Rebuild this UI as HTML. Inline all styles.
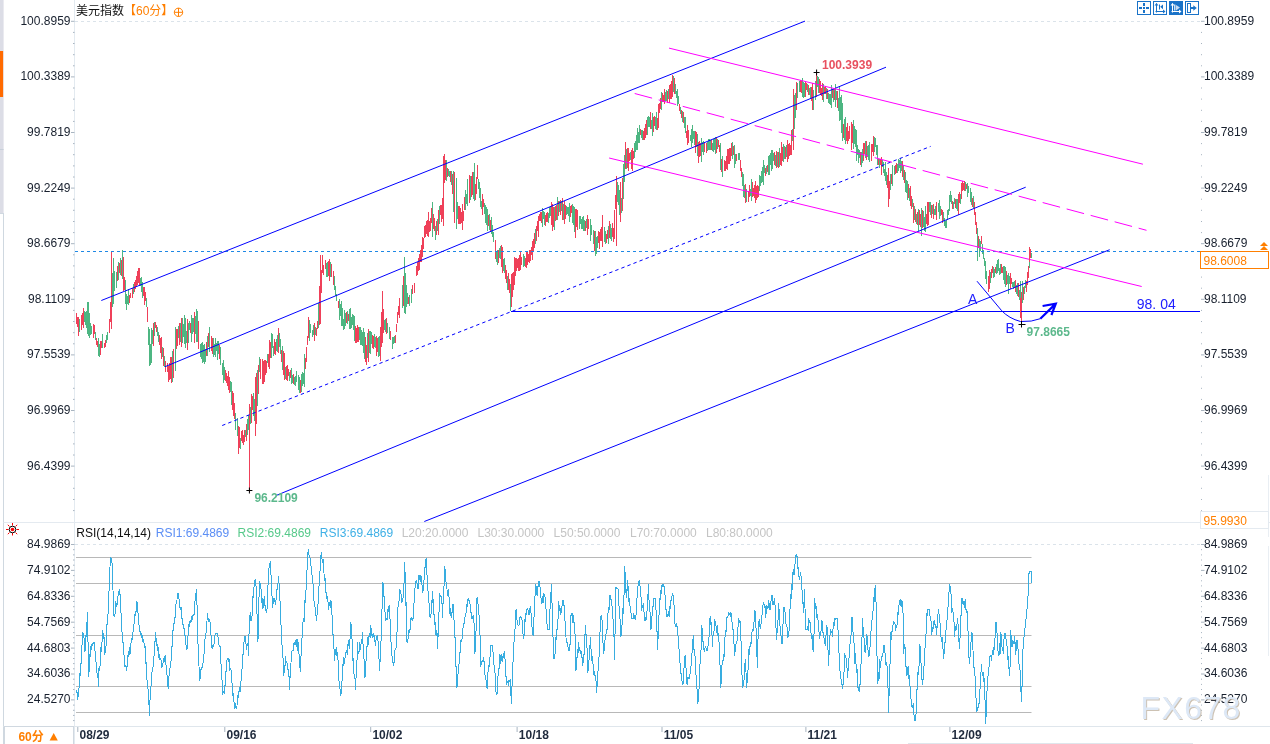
<!DOCTYPE html>
<html><head><meta charset="utf-8"><style>
html,body{margin:0;padding:0;background:#fff;overflow:hidden;width:1270px;height:744px}
svg{display:block}
text{font-family:"Liberation Sans","Noto Sans CJK SC",sans-serif;font-size:12px}
.ax{fill:#18202e}
.dt{fill:#1f2a3c;font-weight:bold}
</style></head><body>
<svg width="1270" height="744" viewBox="0 0 1270 744">
<rect width="1270" height="744" fill="#fff"/>
<!-- left strip -->
<rect x="0" y="0" width="3.6" height="213" fill="#dcdde6"/>
<rect x="0" y="51" width="3.1" height="46" fill="#ff6a00"/>
<path d="M0 149.5H3.6" stroke="#c8d0da" stroke-width="1"/>
<path d="M0 213.5H4M3.5 213V744" stroke="#cfd8e0" stroke-width="1"/>
<!-- panel separators -->
<path d="M74.5 0V744" stroke="#e3eaf0" stroke-width="1"/>
<path d="M3.5 522.5H1270" stroke="#e4eaf0" stroke-width="1"/>
<path d="M3.5 726.5H1270" stroke="#dfe6ec" stroke-width="1"/>
<path d="M908 743.5H1193" stroke="#dfe6ec" stroke-width="1"/>
<path d="M75 21.5H1200M75 544.5H1200" stroke="#dbe3ea" stroke-width="1" stroke-dasharray="3,3"/>
<path d="M71 21.3H74.5M1201 21.3H1204.5M73 32.4H74.5M1201 32.4H1202M73 43.5H74.5M1201 43.5H1202M73 54.7H74.5M1201 54.7H1202M73 65.8H74.5M1201 65.8H1202M71 76.9H74.5M1201 76.9H1204.5M73 88.0H74.5M1201 88.0H1202M73 99.1H74.5M1201 99.1H1202M73 110.3H74.5M1201 110.3H1202M73 121.4H74.5M1201 121.4H1202M71 132.5H74.5M1201 132.5H1204.5M73 143.6H74.5M1201 143.6H1202M73 154.7H74.5M1201 154.7H1202M73 165.9H74.5M1201 165.9H1202M73 177.0H74.5M1201 177.0H1202M71 188.1H74.5M1201 188.1H1204.5M73 199.2H74.5M1201 199.2H1202M73 210.3H74.5M1201 210.3H1202M73 221.5H74.5M1201 221.5H1202M73 232.6H74.5M1201 232.6H1202M71 243.7H74.5M1201 243.7H1204.5M73 254.8H74.5M1201 254.8H1202M73 265.9H74.5M1201 265.9H1202M73 277.1H74.5M1201 277.1H1202M73 288.2H74.5M1201 288.2H1202M71 299.3H74.5M1201 299.3H1204.5M73 310.4H74.5M1201 310.4H1202M73 321.5H74.5M1201 321.5H1202M73 332.7H74.5M1201 332.7H1202M73 343.8H74.5M1201 343.8H1202M71 354.9H74.5M1201 354.9H1204.5M73 366.0H74.5M1201 366.0H1202M73 377.1H74.5M1201 377.1H1202M73 388.3H74.5M1201 388.3H1202M73 399.4H74.5M1201 399.4H1202M71 410.5H74.5M1201 410.5H1204.5M73 421.6H74.5M1201 421.6H1202M73 432.7H74.5M1201 432.7H1202M73 443.9H74.5M1201 443.9H1202M73 455.0H74.5M1201 455.0H1202M71 466.1H74.5M1201 466.1H1204.5M73 477.2H74.5M1201 477.2H1202M73 488.3H74.5M1201 488.3H1202M73 499.5H74.5M1201 499.5H1202M73 510.6H74.5M1201 510.6H1202M71 544.5H74.5M1201 544.5H1204.5M73 549.7H74.5M1201 549.7H1202M73 554.9H74.5M1201 554.9H1202M73 560.0H74.5M1201 560.0H1202M73 565.2H74.5M1201 565.2H1202M71 570.4H74.5M1201 570.4H1204.5M73 575.6H74.5M1201 575.6H1202M73 580.8H74.5M1201 580.8H1202M73 585.9H74.5M1201 585.9H1202M73 591.1H74.5M1201 591.1H1202M71 596.3H74.5M1201 596.3H1204.5M73 601.5H74.5M1201 601.5H1202M73 606.7H74.5M1201 606.7H1202M73 611.8H74.5M1201 611.8H1202M73 617.0H74.5M1201 617.0H1202M71 622.2H74.5M1201 622.2H1204.5M73 627.4H74.5M1201 627.4H1202M73 632.6H74.5M1201 632.6H1202M73 637.7H74.5M1201 637.7H1202M73 642.9H74.5M1201 642.9H1202M71 648.1H74.5M1201 648.1H1204.5M73 653.3H74.5M1201 653.3H1202M73 658.5H74.5M1201 658.5H1202M73 663.6H74.5M1201 663.6H1202M73 668.8H74.5M1201 668.8H1202M71 674.0H74.5M1201 674.0H1204.5M73 679.2H74.5M1201 679.2H1202M73 684.4H74.5M1201 684.4H1202M73 689.5H74.5M1201 689.5H1202M73 694.7H74.5M1201 694.7H1202M71 699.9H74.5M1201 699.9H1204.5M73 705.1H74.5M1201 705.1H1202M73 710.3H74.5M1201 710.3H1202M73 715.4H74.5M1201 715.4H1202M73 720.6H74.5M1201 720.6H1202M77.8 727V732M224.8 727V732M370.7 727V732M517.1 727V732M662.0 727V732M805.9 727V732M949.9 727V732" stroke="#a8b4c0" stroke-width="1"/>
<path d="M76 557.5H1031.5" stroke="#b8b8b8" stroke-width="1"/><path d="M76 583.5H1031.5" stroke="#b8b8b8" stroke-width="1"/><path d="M76 635.5H1031.5" stroke="#b8b8b8" stroke-width="1"/><path d="M76 686.5H1031.5" stroke="#b8b8b8" stroke-width="1"/><path d="M76 712.5H1031.5" stroke="#b8b8b8" stroke-width="1"/>
<!-- candles -->
<g shape-rendering="crispEdges"><path d="M76.5 313.3V323.6M77.5 317.0V327.2M78.5 317.0V336.1M81.5 314.8V329.7M82.5 313.1V324.6M83.5 307.7V327.5M93.5 324.2V337.6M94.5 324.8V333.7M96.5 337.6V344.8M97.5 340.5V347.0M100.5 341.1V354.6M101.5 341.3V348.4M104.5 342.5V347.5M105.5 340.2V346.5M109.5 319.0V332.8M110.5 302.3V321.6M111.5 252.0V329.0M117.5 266.4V281.3M119.5 262.5V273.4M121.5 260.0V276.0M123.5 256.6V290.8M124.5 277.2V289.7M129.5 294.6V302.5M130.5 292.6V298.1M132.5 287.9V297.7M134.5 282.3V292.4M135.5 280.4V289.0M136.5 276.0V285.8M137.5 270.9V285.2M138.5 268.0V282.6M139.5 268.3V285.8M143.5 286.8V296.3M144.5 286.9V304.5M145.5 292.3V301.3M147.5 307.0V322.2M153.5 322.9V346.1M155.5 321.7V328.1M156.5 324.7V332.3M159.5 334.9V344.5M160.5 337.6V353.0M161.5 337.2V359.3M163.5 348.3V366.4M165.5 361.3V372.1M167.5 363.0V371.9M168.5 366.0V382.2M169.5 362.5V379.5M170.5 356.5V379.3M171.5 356.6V383.0M173.5 348.6V378.4M176.5 328.9V348.5M177.5 328.5V345.7M179.5 322.6V344.5M181.5 318.2V346.6M187.5 318.7V350.1M190.5 322.9V333.4M194.5 312.1V342.5M198.5 320.9V349.2M206.5 342.2V356.0M208.5 333.3V346.8M211.5 336.0V350.5M212.5 337.6V353.5M219.5 344.6V358.5M225.5 369.5V380.8M226.5 373.4V382.6M227.5 376.4V386.1M228.5 371.2V390.0M229.5 377.2V392.5M232.5 391.2V410.4M233.5 392.7V415.9M234.5 402.7V419.2M238.5 426.3V453.6M239.5 426.6V448.1M241.5 431.3V441.3M242.5 430.4V443.0M243.5 435.1V444.8M244.5 429.9V441.9M246.5 423.5V441.2M249.5 404.0V491.5M251.5 393.9V423.2M252.5 396.4V409.8M255.5 377.0V436.0M256.5 373.3V424.3M258.5 365.4V394.0M260.5 359.0V378.6M262.5 358.6V383.6M263.5 361.1V383.8M264.5 360.0V382.0M265.5 360.3V375.1M266.5 360.6V373.0M268.5 354.3V366.9M269.5 340.1V368.6M270.5 342.4V358.0M274.5 339.1V353.9M275.5 341.9V354.5M278.5 327.5V353.3M281.5 349.7V361.9M283.5 350.6V375.3M284.5 353.3V379.6M286.5 365.6V379.8M287.5 365.4V380.9M288.5 368.5V376.2M290.5 370.0V378.0M293.5 374.1V384.0M300.5 380.2V392.8M305.5 358.4V369.4M306.5 346.8V361.5M307.5 335.6V345.1M308.5 316.5V338.1M314.5 322.8V340.6M316.5 327.8V335.9M317.5 321.3V329.4M319.5 286.3V325.0M320.5 255.0V324.0M321.5 270.0V292.9M322.5 254.5V273.1M323.5 264.5V274.9M325.5 260.0V269.3M328.5 260.9V276.3M329.5 259.1V280.8M331.5 264.3V276.8M333.5 271.3V285.2M338.5 300.8V308.2M346.5 312.0V323.1M348.5 314.1V321.3M355.5 326.3V343.3M356.5 328.4V343.0M357.5 325.1V341.9M358.5 326.7V342.1M365.5 337.4V362.1M366.5 344.5V364.7M368.5 328.6V362.4M372.5 334.9V347.8M373.5 335.9V349.4M376.5 335.6V356.1M377.5 338.2V351.6M380.5 327.1V360.8M381.5 311.9V346.8M382.5 290.7V342.8M383.5 309.3V332.7M386.5 317.8V333.7M390.5 331.4V340.1M395.5 334.8V343.3M396.5 324.0V332.4M397.5 311.8V323.4M398.5 306.3V314.6M399.5 297.8V317.5M403.5 276.3V305.7M408.5 297.1V303.8M412.5 285.2V294.3M414.5 283.2V293.2M416.5 266.4V275.9M417.5 262.2V274.9M418.5 258.3V271.0M419.5 253.9V270.2M420.5 250.4V261.8M421.5 244.7V262.0M422.5 236.8V256.6M423.5 237.6V248.8M424.5 226.1V237.7M425.5 224.5V237.4M426.5 221.2V233.9M427.5 220.3V236.1M428.5 212.2V236.8M429.5 221.2V231.5M430.5 217.7V231.1M431.5 208.4V223.4M433.5 213.6V228.8M434.5 217.8V231.4M436.5 221.1V234.5M438.5 209.8V235.2M440.5 205.1V215.4M441.5 205.3V222.4M442.5 198.4V218.8M443.5 156.0V226.0M444.5 154.4V183.2M445.5 160.4V179.5M447.5 168.4V177.4M450.5 170.5V181.7M452.5 174.0V193.6M454.5 171.7V222.7M458.5 205.6V223.9M459.5 205.8V223.5M460.5 207.9V224.1M461.5 211.7V223.1M462.5 204.4V229.7M463.5 210.8V220.9M464.5 197.2V209.7M469.5 175.3V202.7M471.5 175.5V196.8M472.5 172.4V195.0M475.5 183.5V199.7M476.5 176.7V193.9M477.5 165.0V178.5M482.5 193.8V214.8M483.5 198.9V206.9M488.5 214.6V225.8M490.5 219.6V231.5M495.5 239.9V259.2M498.5 250.1V263.1M501.5 244.7V267.1M502.5 246.5V273.4M505.5 264.9V279.4M506.5 269.8V283.1M508.5 272.7V289.8M509.5 279.2V292.6M511.5 274.0V306.8M512.5 272.5V296.6M513.5 271.9V290.2M514.5 256.5V284.5M515.5 258.3V276.4M516.5 257.6V270.7M517.5 258.6V268.2M518.5 258.0V270.8M519.5 254.9V270.5M520.5 251.9V270.3M521.5 256.9V264.6M525.5 258.0V266.7M526.5 251.7V268.4M527.5 252.3V265.3M528.5 253.5V262.2M529.5 250.2V263.3M530.5 249.7V261.3M531.5 246.5V254.7M532.5 240.8V260.4M533.5 238.7V251.8M534.5 233.4V247.9M536.5 225.5V241.4M537.5 220.8V230.9M538.5 215.7V236.6M539.5 213.7V221.3M540.5 211.9V220.7M541.5 212.3V222.6M545.5 215.4V226.1M546.5 213.2V222.3M547.5 212.1V221.8M551.5 201.5V224.8M552.5 204.0V230.7M553.5 206.9V226.6M555.5 205.6V220.8M556.5 204.5V219.9M558.5 201.1V216.2M560.5 200.4V214.5M562.5 198.2V220.3M564.5 200.8V223.6M565.5 205.4V218.5M570.5 206.1V217.2M571.5 204.5V212.8M575.5 209.1V237.6M576.5 208.8V227.0M577.5 209.8V230.4M585.5 221.2V230.9M587.5 215.3V235.2M588.5 219.0V229.3M594.5 231.3V251.3M598.5 231.0V242.6M599.5 232.3V249.1M600.5 228.6V240.7M601.5 227.0V240.5M602.5 214.9V247.3M606.5 233.8V243.1M607.5 229.5V239.3M609.5 221.0V238.3M612.5 223.2V237.3M613.5 228.4V242.2M614.5 210.0V239.1M615.5 194.5V209.2M616.5 176.0V246.0M620.5 181.7V221.7M622.5 177.6V211.4M625.5 142.1V168.8M627.5 148.4V168.2M628.5 147.7V170.5M629.5 153.2V161.4M631.5 149.8V169.1M632.5 148.3V171.1M633.5 151.1V159.0M640.5 128.9V135.1M643.5 130.9V140.1M644.5 127.7V139.6M645.5 123.9V138.3M646.5 120.1V134.8M650.5 112.3V128.7M653.5 116.9V131.8M654.5 115.6V126.3M657.5 118.4V129.7M658.5 103.8V127.8M659.5 103.3V113.0M660.5 97.8V109.3M662.5 92.5V102.0M663.5 94.9V101.6M664.5 88.5V103.5M667.5 90.8V102.5M669.5 85.4V102.8M670.5 83.6V99.1M671.5 80.7V98.5M672.5 74.6V97.2M674.5 78.1V93.6M679.5 103.6V111.4M681.5 109.6V118.2M683.5 111.9V123.1M686.5 130.5V138.2M687.5 124.5V144.5M688.5 129.8V142.5M695.5 130.6V153.1M696.5 132.1V146.8M698.5 141.9V163.2M699.5 141.1V157.0M700.5 143.2V155.8M704.5 142.0V152.2M706.5 142.6V153.1M711.5 140.1V150.1M716.5 136.8V153.1M718.5 139.6V147.4M719.5 144.6V152.0M721.5 159.3V172.4M724.5 160.2V170.5M725.5 161.3V170.5M726.5 156.3V168.7M727.5 149.0V170.2M728.5 149.0V163.6M729.5 147.6V163.8M730.5 147.6V161.2M731.5 142.9V156.1M733.5 145.6V154.9M736.5 154.1V161.0M740.5 159.6V170.5M741.5 167.6V176.8M745.5 183.7V202.7M748.5 191.1V201.5M749.5 185.2V197.1M752.5 181.8V196.5M753.5 187.9V196.3M754.5 184.8V198.2M755.5 180.5V203.2M756.5 186.1V200.2M757.5 184.7V198.2M758.5 185.5V196.8M765.5 167.8V176.4M767.5 165.0V171.7M774.5 152.0V164.8M776.5 150.9V168.1M778.5 152.0V168.1M780.5 152.9V165.0M781.5 141.7V166.3M782.5 147.3V161.4M785.5 146.6V158.7M787.5 139.8V161.6M788.5 143.6V158.9M789.5 143.2V156.4M790.5 144.6V155.2M791.5 129.6V154.5M793.5 89.0V150.0M796.5 82.0V109.8M800.5 79.5V91.9M801.5 80.8V92.9M805.5 82.2V96.8M806.5 83.4V90.0M808.5 84.7V94.6M811.5 86.7V101.4M812.5 83.1V109.5M816.5 72.3V96.8M819.5 79.2V93.4M820.5 81.1V95.3M821.5 87.6V95.9M822.5 83.1V100.0M824.5 86.8V93.9M825.5 86.2V94.4M827.5 88.9V99.1M832.5 88.7V97.7M834.5 88.9V99.9M837.5 91.1V107.6M843.5 123.7V137.6M846.5 126.6V141.0M847.5 123.1V143.8M848.5 131.0V140.7M849.5 126.0V138.7M851.5 121.6V150.3M852.5 123.7V143.2M860.5 151.5V164.5M863.5 142.8V160.8M864.5 142.5V154.3M866.5 140.6V160.2M871.5 143.9V161.2M872.5 143.9V152.4M873.5 135.6V156.1M878.5 158.5V164.6M880.5 159.3V164.9M881.5 156.8V175.1M887.5 174.5V188.1M888.5 167.9V207.3M889.5 181.4V198.5M891.5 173.5V183.9M895.5 165.3V174.4M896.5 162.7V172.6M902.5 160.5V176.9M904.5 169.8V182.5M908.5 183.8V198.4M910.5 185.5V206.4M911.5 196.2V209.2M913.5 202.5V223.2M915.5 209.1V221.7M917.5 212.2V225.1M919.5 210.0V224.8M920.5 213.5V226.9M922.5 209.8V227.9M926.5 213.6V223.7M927.5 201.6V225.5M928.5 202.1V225.3M931.5 204.5V218.1M933.5 204.4V219.0M936.5 202.4V220.0M941.5 209.3V214.7M942.5 209.8V223.0M952.5 200.7V208.9M955.5 198.5V208.3M958.5 193.8V215.0M959.5 192.0V203.0M961.5 183.3V198.6M962.5 181.4V191.4M963.5 183.4V190.4M964.5 181.2V190.8M966.5 183.7V188.8M972.5 197.7V207.1M974.5 202.2V214.6M975.5 212.4V224.6M976.5 221.5V233.9M978.5 236.3V248.1M981.5 235.5V244.3M988.5 275.9V291.5M989.5 270.3V289.4M991.5 269.3V277.5M992.5 265.9V272.6M995.5 267.2V273.1M1001.5 264.3V273.1M1002.5 266.9V273.2M1006.5 270.7V285.3M1010.5 272.6V288.9M1011.5 278.2V284.2M1015.5 279.5V291.9M1018.5 282.9V296.9M1021.5 292.0V322.0M1023.5 286.6V300.2M1026.5 281.2V292.0M1027.5 271.8V285.4M1028.5 265.7V277.7M1030.5 250.7V258.1" stroke="#ef4059" stroke-width="1" fill="none"/><path d="M79.5 319.4V332.0M84.5 310.8V322.2M85.5 312.3V325.2M86.5 310.7V327.7M87.5 302.4V333.8M88.5 302.2V335.5M89.5 313.4V338.1M90.5 322.7V334.6M91.5 325.8V333.5M95.5 331.8V339.6M98.5 337.9V355.6M99.5 344.1V357.0M102.5 334.3V347.9M106.5 334.6V342.9M107.5 331.6V339.8M112.5 272.5V307.2M113.5 258.0V303.6M114.5 271.0V291.4M116.5 271.9V287.8M118.5 262.2V280.3M120.5 258.4V275.2M122.5 249.8V279.3M125.5 279.9V303.8M126.5 293.7V309.6M127.5 295.8V304.3M128.5 289.3V305.1M133.5 284.2V294.3M140.5 277.8V286.2M141.5 277.2V292.2M142.5 282.4V297.5M146.5 298.2V306.8M148.5 326.8V345.2M149.5 329.3V365.9M150.5 343.9V365.1M151.5 327.8V362.6M152.5 329.5V344.0M154.5 321.6V335.7M157.5 326.7V335.9M158.5 331.7V342.2M162.5 346.5V357.3M164.5 356.1V366.6M172.5 351.2V381.5M175.5 326.9V370.8M178.5 326.1V337.7M180.5 323.1V342.3M182.5 318.3V342.5M183.5 323.9V337.3M184.5 314.8V343.6M185.5 317.8V347.8M186.5 330.7V343.4M188.5 323.2V343.2M189.5 320.6V330.4M191.5 315.1V341.6M192.5 318.2V334.2M193.5 317.8V331.7M195.5 316.0V333.7M196.5 309.4V341.7M197.5 311.3V341.8M200.5 343.6V356.5M201.5 343.3V358.9M202.5 342.0V363.0M203.5 345.3V362.0M204.5 343.8V363.5M205.5 349.0V361.5M207.5 335.5V355.7M209.5 327.2V351.7M213.5 338.1V356.6M214.5 343.5V354.5M215.5 338.1V356.9M216.5 342.9V351.0M217.5 340.7V359.7M218.5 341.0V354.0M220.5 347.2V364.8M222.5 362.7V374.6M223.5 359.7V382.5M224.5 366.7V379.9M230.5 380.8V391.9M231.5 382.3V405.0M235.5 412.8V430.0M237.5 418.0V435.9M240.5 438.3V448.9M245.5 430.0V436.9M247.5 418.9V434.9M248.5 415.2V430.1M250.5 407.1V423.9M253.5 392.5V415.5M254.5 399.4V420.7M257.5 369.7V406.4M259.5 356.6V372.2M267.5 353.8V362.9M271.5 332.8V357.7M272.5 334.4V348.3M273.5 346.1V356.2M276.5 339.4V351.2M277.5 334.8V351.6M279.5 332.8V346.7M280.5 339.0V354.0M282.5 346.3V370.2M285.5 367.1V378.7M289.5 372.1V381.0M291.5 368.3V383.9M292.5 374.5V382.5M294.5 377.1V385.4M295.5 376.1V386.1M296.5 370.5V382.3M298.5 375.3V390.1M299.5 377.3V392.8M301.5 374.4V392.3M302.5 371.8V385.8M303.5 373.0V384.0M304.5 354.0V386.7M309.5 319.9V340.6M310.5 323.9V332.7M312.5 330.0V336.7M313.5 324.9V334.5M315.5 327.2V335.4M318.5 303.0V327.9M326.5 263.2V276.8M327.5 262.0V276.6M330.5 261.5V277.0M334.5 275.5V290.0M335.5 286.3V296.3M336.5 293.9V301.0M339.5 298.6V319.5M340.5 304.3V315.6M341.5 301.1V326.0M342.5 308.3V325.9M343.5 318.6V330.3M344.5 309.6V329.2M345.5 312.5V326.0M347.5 310.9V324.0M349.5 308.8V328.9M350.5 307.9V328.6M351.5 317.0V327.9M352.5 314.2V324.9M353.5 315.4V330.3M354.5 315.5V341.4M359.5 326.9V339.6M360.5 327.3V344.8M361.5 329.5V344.9M362.5 332.4V345.7M363.5 328.2V353.1M364.5 332.4V358.7M367.5 333.1V358.0M369.5 330.6V353.0M370.5 330.7V353.6M371.5 331.9V344.0M374.5 334.2V346.9M375.5 337.3V347.5M378.5 337.2V356.8M379.5 336.1V356.0M384.5 319.6V330.2M385.5 319.3V331.7M387.5 322.9V332.6M389.5 326.5V338.9M392.5 336.7V348.6M393.5 337.3V344.4M394.5 335.5V342.5M402.5 285.1V308.0M404.5 256.5V312.7M405.5 272.5V314.4M406.5 284.7V306.9M407.5 292.8V303.8M409.5 295.3V305.6M411.5 289.4V303.0M432.5 202.4V237.3M435.5 226.4V239.7M437.5 219.1V231.1M439.5 206.3V224.2M446.5 160.2V181.4M448.5 169.0V176.2M449.5 171.0V176.5M451.5 171.4V184.6M453.5 170.6V211.5M456.5 177.7V229.2M457.5 201.9V218.5M465.5 190.0V209.9M466.5 193.8V203.9M467.5 178.5V205.5M470.5 175.8V199.7M473.5 171.6V199.4M474.5 163.1V200.7M478.5 179.2V188.9M479.5 181.5V197.7M480.5 187.5V206.6M481.5 200.5V209.1M484.5 202.5V214.2M485.5 204.9V222.7M486.5 206.8V225.4M487.5 208.7V231.4M489.5 214.0V230.2M491.5 217.3V233.8M492.5 225.4V237.0M493.5 231.5V241.7M496.5 252.0V261.8M497.5 250.3V265.0M499.5 248.2V257.7M500.5 246.0V258.5M503.5 259.0V270.5M504.5 258.3V273.2M507.5 275.8V290.3M510.5 284.0V311.0M523.5 254.0V266.7M524.5 255.8V265.7M535.5 229.0V244.2M542.5 207.9V227.0M543.5 211.3V219.3M544.5 212.2V225.2M548.5 212.6V222.7M549.5 207.1V218.1M550.5 206.0V215.7M554.5 207.0V229.8M557.5 196.5V219.8M559.5 200.5V212.2M561.5 200.7V211.4M563.5 204.1V219.6M566.5 206.3V214.7M567.5 206.6V213.5M568.5 207.0V216.0M569.5 203.0V222.0M572.5 203.5V222.7M573.5 205.8V224.6M574.5 207.4V231.5M579.5 216.2V228.7M580.5 215.7V224.1M581.5 219.4V228.6M582.5 216.5V229.1M583.5 215.6V230.5M584.5 219.8V231.0M586.5 219.1V228.3M590.5 218.6V241.3M591.5 225.2V235.3M593.5 230.2V244.1M595.5 230.5V255.5M596.5 236.6V253.5M597.5 235.5V247.7M604.5 226.8V241.9M605.5 231.4V243.8M608.5 226.4V243.6M610.5 223.9V239.3M611.5 227.6V240.7M617.5 181.7V202.1M618.5 184.6V205.4M619.5 189.8V214.5M621.5 198.3V213.3M623.5 163.7V198.6M624.5 155.0V181.9M626.5 148.8V169.2M630.5 152.2V159.8M634.5 142.8V157.7M635.5 140.6V152.1M636.5 134.6V150.3M637.5 127.7V150.3M638.5 132.2V142.7M639.5 125.3V142.8M641.5 130.0V138.4M642.5 130.2V140.4M647.5 116.6V134.9M648.5 115.8V126.7M649.5 116.7V127.0M651.5 119.8V129.1M652.5 113.3V135.5M655.5 117.0V128.5M656.5 112.4V129.9M661.5 92.2V109.6M665.5 91.6V100.8M666.5 90.2V100.7M668.5 88.7V98.7M673.5 76.3V91.8M675.5 83.6V94.1M676.5 91.2V98.3M677.5 88.7V106.1M678.5 96.3V104.2M680.5 106.5V114.3M682.5 111.2V122.0M684.5 116.9V127.6M685.5 117.3V133.4M690.5 134.6V141.2M691.5 128.7V147.4M692.5 124.9V143.1M693.5 130.7V139.4M694.5 131.3V145.3M697.5 134.3V156.1M701.5 138.4V162.2M702.5 142.4V151.5M703.5 141.1V154.6M707.5 141.9V150.8M708.5 139.0V150.0M709.5 138.9V149.5M710.5 139.9V149.9M712.5 143.3V150.8M713.5 139.3V151.8M714.5 138.2V150.3M715.5 136.8V153.9M717.5 139.2V148.5M720.5 143.0V169.6M722.5 155.8V177.1M732.5 142.0V159.2M734.5 145.1V167.5M735.5 154.0V163.6M738.5 153.1V159.7M739.5 153.4V160.2M742.5 171.7V185.6M743.5 173.5V196.8M744.5 185.2V198.3M746.5 189.1V202.2M750.5 188.8V196.4M751.5 178.5V200.7M759.5 175.1V191.1M760.5 176.1V186.1M761.5 171.0V182.6M762.5 167.2V182.1M763.5 160.0V184.7M764.5 165.0V173.1M766.5 166.1V173.5M768.5 156.1V174.7M769.5 154.8V175.2M770.5 153.3V165.0M771.5 150.0V170.5M772.5 149.9V169.4M773.5 152.8V160.9M775.5 154.8V165.9M777.5 152.1V167.2M779.5 147.8V167.2M783.5 144.2V162.2M784.5 146.1V159.2M786.5 144.9V157.0M792.5 129.3V140.9M794.5 95.0V128.8M795.5 93.2V118.1M797.5 83.4V97.9M799.5 81.1V92.2M802.5 77.9V96.8M803.5 82.2V97.8M804.5 82.7V97.3M807.5 84.4V92.4M809.5 88.4V95.3M810.5 86.8V97.7M813.5 89.9V109.6M815.5 81.0V100.0M817.5 76.4V87.1M818.5 77.2V92.5M823.5 83.9V102.3M826.5 87.7V98.5M828.5 92.7V102.7M829.5 93.9V103.6M830.5 94.3V105.1M831.5 84.8V107.9M833.5 88.0V102.3M835.5 83.6V107.1M836.5 91.3V100.2M838.5 98.1V111.0M839.5 87.0V121.1M840.5 96.8V119.8M841.5 94.9V132.8M842.5 102.8V140.8M844.5 118.6V139.5M845.5 116.6V144.0M853.5 120.0V149.0M854.5 126.1V143.6M855.5 128.7V146.6M856.5 130.2V161.3M857.5 144.8V155.0M858.5 149.2V163.2M859.5 150.2V158.4M861.5 151.5V167.4M862.5 148.6V162.7M865.5 140.6V158.4M867.5 145.9V157.3M868.5 145.0V159.7M869.5 142.1V161.8M874.5 137.4V152.3M875.5 137.6V147.3M876.5 145.4V155.2M877.5 145.4V164.8M879.5 159.1V167.9M882.5 159.5V166.9M883.5 161.9V173.2M884.5 168.9V175.9M885.5 162.4V181.3M886.5 171.6V184.7M890.5 173.5V189.7M892.5 164.5V186.2M894.5 165.7V175.1M897.5 163.8V172.5M898.5 159.1V170.8M899.5 160.3V168.4M900.5 157.5V172.5M901.5 160.7V171.0M903.5 164.5V179.6M905.5 171.6V191.6M906.5 179.9V192.8M907.5 180.5V199.6M909.5 187.8V201.3M912.5 198.8V207.3M914.5 206.1V220.4M916.5 214.3V223.5M918.5 209.2V230.6M921.5 208.2V235.6M923.5 210.9V226.7M924.5 216.7V230.8M925.5 206.3V232.0M929.5 202.1V212.0M930.5 202.0V214.8M932.5 204.9V214.2M934.5 208.6V215.3M935.5 206.0V215.0M938.5 202.9V211.7M939.5 200.1V219.1M940.5 206.2V216.1M943.5 212.4V220.9M944.5 217.6V226.0M945.5 220.9V228.2M946.5 220.3V227.9M947.5 209.8V220.2M948.5 209.3V215.2M949.5 195.2V210.9M950.5 190.6V202.4M951.5 195.1V203.5M953.5 202.3V208.7M954.5 198.1V203.6M956.5 198.6V208.7M957.5 199.3V210.5M960.5 194.1V204.3M965.5 182.1V191.2M967.5 182.5V197.4M968.5 185.8V193.3M970.5 187.9V202.1M971.5 192.2V205.2M973.5 195.9V208.1M977.5 228.3V261.0M979.5 238.8V257.4M980.5 240.5V250.6M982.5 243.9V254.1M983.5 249.6V258.7M984.5 258.3V266.3M985.5 260.7V279.4M986.5 271.4V284.4M990.5 271.6V282.8M993.5 267.1V278.3M994.5 268.6V276.9M996.5 263.6V274.2M997.5 260.0V272.9M998.5 259.2V270.9M999.5 268.3V275.0M1000.5 263.9V273.8M1003.5 265.5V280.0M1004.5 266.0V284.2M1005.5 266.6V287.2M1007.5 274.5V284.1M1008.5 272.9V293.7M1009.5 276.1V284.3M1012.5 281.8V286.8M1013.5 282.0V288.6M1014.5 280.5V288.0M1016.5 285.1V294.1M1017.5 282.8V296.1M1019.5 289.5V299.6M1020.5 280.6V303.5M1022.5 280.9V302.7M1024.5 285.5V293.6M1025.5 280.3V288.2M1029.5 258.9V268.2M1031.5 252.9V258.2" stroke="#4db682" stroke-width="1" fill="none"/></g>
<!-- price line -->
<path d="M75 251.5H1200" stroke="#1e88e5" stroke-width="1" stroke-dasharray="3,3" shape-rendering="crispEdges"/>
<!-- trend lines -->
<g stroke="#0000ff" stroke-width="1" fill="none">
<path d="M101.3 300.5L805 21.1"/>
<path d="M165 366.7L886 67.2"/>
<path d="M222.2 425.5L930.6 146.4" stroke-dasharray="3.4,3.1"/>
<path d="M276.6 495.3L1025.7 187.2"/>
<path d="M424.3 521.5L1109.7 249.7"/>
<path d="M511 311.5H1200"/>
<path d="M977 281.2L1001.6 310.6Q1009 318.5 1020.5 321.5Q1032 322 1040.3 318.7"/>
<path d="M1040.3 318.7L1055.8 303.6M1042.6 306L1055.8 303.6L1051.4 315" stroke-width="2.2" stroke-linejoin="miter"/>
</g>
<g stroke="#ff00ff" stroke-width="1" fill="none">
<path d="M669 48.1L1142.9 164.2"/>
<path d="M634.7 93.5L1146.5 230.3" stroke-dasharray="18,6.84"/>
<path d="M609.1 158L1141.7 286.5"/>
</g>
<path d="M1020.5 298V318M1029.5 247V262M1030.5 249V258" stroke="#ef4059" stroke-width="1" shape-rendering="crispEdges"/>
<path d="M1268.5 475V537M1268.5 546V656" stroke="#e9eef3" stroke-width="1"/>
<!-- markers -->
<path d="M813.6 72.5H819.6M816.6 69.5V75.5M246.4 490.5H252.4M249.4 487.5V493.5M1018.5 324.5H1025.5M1021.5 321V327.5" stroke="#000" stroke-width="1"/>
<text x="822" y="69.3" style="font-weight:bold;fill:#e8505f">100.3939</text>
<text x="254.4" y="502" style="font-weight:bold;fill:#5cb88c">96.2109</text>
<text x="1026.6" y="335.7" style="font-weight:bold;fill:#5cb88c">97.8665</text>
<text x="968" y="304" style="font-size:14px;fill:#2020ff">A</text>
<text x="1005.5" y="333.3" style="font-size:14px;fill:#2020ff">B</text>
<text x="1136.8" y="308.8" style="font-size:14px;fill:#2020ff">98. 04</text>
<!-- RSI -->
<polyline points="76.5,689.5 76.5,690.1 77.5,694.7 77.5,700.0 77.5,699.9 78.5,694.5 78.5,690.2 79.5,685.6 79.5,673.4 80.5,675.8 80.5,675.7 80.5,669.9 81.5,657.3 81.5,648.1 82.5,641.8 82.5,632.1 82.5,632.0 83.5,635.1 83.5,633.5 84.5,642.6 84.5,647.8 84.5,651.5 85.5,650.5 85.5,635.5 86.5,636.6 86.5,627.6 87.5,616.7 87.5,611.6 87.5,630.3 88.5,653.7 88.5,672.6 88.5,676.9 89.5,667.8 89.5,653.9 90.5,657.2 90.5,650.8 90.5,649.1 91.5,643.9 91.5,649.8 92.5,642.8 92.5,645.6 93.5,642.8 93.5,642.8 94.5,642.8 94.5,644.4 94.5,644.2 95.5,656.7 95.5,658.1 96.5,666.3 96.5,669.2 97.5,676.4 97.5,677.6 98.5,676.5 98.5,686.6 98.5,669.5 99.5,667.7 99.5,671.2 100.5,661.6 100.5,649.3 100.5,646.6 101.5,651.7 101.5,645.0 102.5,638.6 102.5,633.7 102.5,629.7 103.5,635.7 103.5,638.8 104.5,637.9 104.5,647.5 104.5,653.9 105.5,652.2 105.5,651.1 106.5,641.2 106.5,626.2 107.5,622.1 107.5,624.5 107.5,615.2 108.5,613.5 108.5,598.4 109.5,583.7 109.5,571.0 110.5,562.2 110.5,561.9 110.5,556.8 111.5,560.9 111.5,557.8 111.5,558.3 112.5,567.7 112.5,583.2 112.5,581.3 113.5,599.1 113.5,608.2 113.5,615.2 114.5,616.3 114.5,616.3 115.5,612.5 115.5,601.5 116.5,604.1 116.5,603.1 116.5,605.8 117.5,604.4 117.5,597.2 118.5,595.2 118.5,591.6 119.5,590.0 119.5,594.9 119.5,589.8 120.5,598.6 120.5,608.3 121.5,617.7 121.5,627.9 122.5,635.3 122.5,639.4 122.5,642.4 123.5,643.0 123.5,647.8 124.5,662.0 124.5,666.5 125.5,665.8 125.5,666.6 126.5,667.2 126.5,670.8 126.5,667.3 127.5,665.8 127.5,655.8 128.5,656.6 128.5,651.3 129.5,655.2 129.5,650.9 129.5,646.6 130.5,654.0 130.5,645.7 131.5,640.4 131.5,638.7 132.5,639.7 132.5,637.2 133.5,627.1 133.5,627.3 133.5,625.5 134.5,622.0 134.5,616.6 135.5,610.9 135.5,616.1 136.5,608.8 136.5,601.0 136.5,600.7 137.5,602.8 137.5,609.9 138.5,616.1 138.5,617.6 138.5,623.1 139.5,626.4 139.5,628.9 140.5,634.0 140.5,635.3 141.5,633.3 141.5,634.3 141.5,637.0 142.5,635.8 142.5,641.5 143.5,641.0 143.5,639.0 144.5,647.3 144.5,647.8 145.5,646.9 145.5,663.6 145.5,658.4 146.5,665.3 146.5,677.3 147.5,683.1 147.5,687.0 148.5,691.6 148.5,700.4 149.5,709.5 149.5,715.6 149.5,702.7 150.5,698.1 150.5,687.5 151.5,685.2 151.5,685.4 151.5,673.6 152.5,669.8 152.5,668.4 153.5,666.2 153.5,664.6 154.5,647.0 154.5,643.2 155.5,639.9 155.5,632.1 155.5,642.4 156.5,637.7 156.5,641.6 157.5,650.9 157.5,643.5 157.5,644.2 158.5,649.1 158.5,656.5 159.5,654.7 159.5,660.3 160.5,658.1 160.5,659.1 161.5,661.1 161.5,668.4 161.5,664.1 162.5,663.3 162.5,666.5 163.5,659.8 163.5,658.5 164.5,661.7 164.5,661.2 164.5,656.3 165.5,655.7 165.5,663.7 166.5,665.7 166.5,672.2 167.5,677.5 167.5,686.3 168.5,687.8 168.5,687.8 168.5,681.1 169.5,671.1 169.5,671.4 170.5,664.9 170.5,664.3 171.5,657.8 171.5,647.1 172.5,645.8 172.5,641.8 172.5,636.2 173.5,623.3 173.5,631.0 174.5,617.1 174.5,617.6 175.5,617.3 175.5,611.9 175.5,607.9 176.5,600.5 176.5,604.2 177.5,595.0 177.5,593.5 178.5,593.5 178.5,594.6 178.5,596.5 179.5,601.3 179.5,607.6 180.5,607.3 180.5,609.6 181.5,608.2 181.5,612.0 181.5,617.6 182.5,619.5 182.5,621.5 183.5,627.3 183.5,627.6 184.5,629.1 184.5,633.9 185.5,637.1 185.5,643.6 186.5,647.1 186.5,650.3 186.5,649.1 187.5,648.4 187.5,640.9 188.5,630.9 188.5,627.4 188.5,624.9 189.5,626.4 189.5,621.3 190.5,620.6 190.5,622.9 191.5,620.2 191.5,616.3 192.5,619.8 192.5,617.7 192.5,615.2 193.5,615.2 193.5,615.2 194.5,613.7 194.5,605.0 195.5,597.6 195.5,595.1 196.5,590.3 196.5,588.6 196.5,591.5 197.5,619.0 197.5,634.5 197.5,636.7 198.5,651.5 198.5,657.1 199.5,675.6 199.5,680.5 199.5,679.7 200.5,677.3 200.5,669.5 201.5,669.3 201.5,668.0 202.5,666.6 202.5,668.4 202.5,665.9 203.5,660.7 203.5,659.1 204.5,650.0 204.5,640.0 204.5,641.8 205.5,635.8 205.5,633.7 206.5,632.7 206.5,628.0 207.5,613.5 207.5,614.0 207.5,614.6 208.5,622.1 208.5,621.3 209.5,618.8 209.5,621.3 209.5,620.0 210.5,623.9 210.5,632.6 211.5,637.3 211.5,648.0 211.5,646.6 212.5,648.0 212.5,645.4 213.5,646.0 213.5,647.1 214.5,640.8 214.5,637.0 215.5,633.3 215.5,633.3 215.5,634.5 216.5,633.3 216.5,633.3 217.5,633.3 217.5,633.3 218.5,640.1 218.5,642.4 219.5,646.8 219.5,646.6 219.5,645.7 220.5,647.3 220.5,659.7 221.5,667.7 221.5,672.6 221.5,673.3 222.5,685.8 222.5,688.4 222.5,695.0 223.5,691.5 223.5,691.9 224.5,693.8 224.5,685.3 225.5,685.4 225.5,674.0 226.5,669.2 226.5,661.2 226.5,662.6 227.5,657.6 227.5,657.7 228.5,662.1 228.5,660.0 228.5,658.7 229.5,660.1 229.5,670.8 230.5,668.2 230.5,667.6 231.5,672.7 231.5,675.6 232.5,689.9 232.5,696.2 232.5,695.0 233.5,694.0 233.5,694.4 234.5,709.3 234.5,705.4 235.5,702.8 235.5,706.5 236.5,709.3 236.5,708.4 236.5,709.3 237.5,701.9 237.5,695.4 238.5,697.9 238.5,695.7 239.5,686.6 239.5,692.0 239.5,690.2 240.5,691.5 240.5,684.1 241.5,677.6 241.5,673.7 242.5,665.5 242.5,666.0 242.5,655.3 243.5,653.5 243.5,642.6 244.5,641.4 244.5,636.9 244.5,637.0 245.5,636.9 245.5,638.0 246.5,649.6 246.5,645.7 247.5,642.9 247.5,645.6 248.5,646.2 248.5,656.3 248.5,640.1 249.5,627.9 249.5,615.2 249.5,616.5 250.5,620.5 250.5,612.0 251.5,620.1 251.5,621.2 252.5,611.8 252.5,596.5 253.5,595.6 253.5,598.2 253.5,593.6 254.5,580.8 254.5,581.6 255.5,579.5 255.5,578.7 255.5,580.1 256.5,591.6 256.5,609.0 257.5,618.2 257.5,631.9 257.5,641.8 258.5,636.2 258.5,608.7 259.5,585.9 259.5,581.3 259.5,585.3 260.5,587.1 260.5,583.1 261.5,594.2 261.5,593.5 261.5,603.1 262.5,598.5 262.5,608.3 263.5,606.7 263.5,601.0 264.5,596.5 264.5,605.1 265.5,605.3 265.5,605.5 265.5,609.6 266.5,612.9 266.5,612.8 266.5,612.9 267.5,605.0 267.5,594.0 268.5,575.7 268.5,568.6 269.5,567.7 269.5,563.9 270.5,562.1 270.5,563.2 270.5,570.0 271.5,580.6 271.5,593.4 272.5,597.7 272.5,607.9 272.5,605.4 273.5,597.6 273.5,602.9 274.5,601.4 274.5,601.6 274.5,598.2 275.5,605.1 275.5,603.8 276.5,597.0 276.5,595.4 277.5,584.0 277.5,583.9 278.5,581.4 278.5,576.2 278.5,577.7 279.5,588.8 279.5,594.3 280.5,607.2 280.5,613.9 280.5,622.4 281.5,627.9 281.5,642.9 282.5,647.3 282.5,651.4 283.5,664.2 283.5,675.7 283.5,675.9 284.5,670.9 284.5,665.6 285.5,665.9 285.5,655.7 285.5,661.2 286.5,661.2 286.5,661.2 287.5,665.3 287.5,668.5 288.5,670.5 288.5,676.4 289.5,676.9 289.5,690.2 289.5,682.3 290.5,673.9 290.5,667.0 291.5,658.2 291.5,656.5 291.5,651.5 292.5,650.3 292.5,650.7 293.5,649.9 293.5,643.3 294.5,644.2 294.5,641.8 294.5,644.0 295.5,644.0 295.5,640.9 296.5,638.8 296.5,642.5 297.5,650.5 297.5,642.4 297.5,639.4 298.5,645.2 298.5,648.8 299.5,658.5 299.5,665.6 300.5,669.7 300.5,672.1 300.5,660.5 301.5,651.7 301.5,641.1 302.5,634.8 302.5,624.7 302.5,627.3 303.5,617.8 303.5,618.3 304.5,621.7 304.5,601.9 305.5,598.5 305.5,603.1 305.5,594.4 306.5,586.6 306.5,577.0 307.5,563.6 307.5,553.8 308.5,551.4 308.5,548.6 308.5,553.7 309.5,556.3 309.5,555.3 310.5,560.1 310.5,562.9 311.5,569.4 311.5,569.2 311.5,574.1 312.5,576.5 312.5,583.5 313.5,584.2 313.5,595.2 313.5,595.8 314.5,605.1 314.5,603.1 315.5,610.6 315.5,611.1 316.5,621.4 316.5,620.0 316.5,619.8 317.5,611.3 317.5,609.1 318.5,599.6 318.5,593.4 318.5,590.6 319.5,581.4 319.5,574.7 320.5,566.9 320.5,561.3 320.5,557.1 321.5,552.8 321.5,552.3 321.5,555.5 322.5,562.8 322.5,562.2 323.5,559.4 323.5,568.1 323.5,569.2 324.5,577.6 324.5,580.0 325.5,578.8 325.5,586.5 326.5,598.5 326.5,593.4 326.5,592.0 327.5,599.3 327.5,601.8 328.5,602.4 328.5,610.3 328.5,609.5 329.5,602.4 329.5,604.0 330.5,608.4 330.5,605.5 330.5,600.7 331.5,602.0 331.5,609.2 332.5,621.2 332.5,634.5 332.5,624.9 333.5,642.7 333.5,647.9 334.5,649.8 334.5,652.1 334.5,661.2 335.5,649.9 335.5,650.9 336.5,647.0 336.5,656.4 336.5,653.9 337.5,653.1 337.5,655.5 338.5,664.4 338.5,676.7 339.5,685.9 339.5,686.1 340.5,691.5 340.5,695.7 340.5,695.0 341.5,693.6 341.5,687.2 342.5,675.9 342.5,665.4 343.5,662.8 343.5,666.0 343.5,657.1 344.5,663.6 344.5,661.1 345.5,654.3 345.5,656.3 345.5,652.6 346.5,650.9 346.5,651.0 347.5,655.3 347.5,647.3 348.5,640.4 348.5,645.1 349.5,645.4 349.5,649.1 349.5,641.2 350.5,636.8 350.5,628.8 350.5,622.4 351.5,626.2 351.5,632.6 352.5,645.0 352.5,653.3 352.5,661.2 353.5,658.0 353.5,669.4 354.5,678.5 354.5,675.8 355.5,680.0 355.5,690.2 355.5,679.0 356.5,676.7 356.5,664.6 357.5,656.0 357.5,642.3 357.5,649.1 358.5,654.0 358.5,651.9 359.5,651.8 359.5,650.2 359.5,641.8 360.5,649.7 360.5,647.0 361.5,640.6 361.5,640.5 362.5,636.8 362.5,632.1 362.5,642.4 363.5,645.8 363.5,652.5 364.5,665.3 364.5,675.7 364.5,678.1 365.5,675.7 365.5,665.5 366.5,656.6 366.5,646.2 367.5,646.7 367.5,637.0 367.5,643.6 368.5,644.2 368.5,639.8 369.5,632.9 369.5,635.4 370.5,638.2 370.5,634.8 370.5,624.9 371.5,630.9 371.5,635.9 372.5,633.8 372.5,638.3 373.5,635.8 373.5,637.0 373.5,632.9 374.5,636.9 374.5,638.4 375.5,645.8 375.5,641.1 376.5,639.5 376.5,635.5 376.5,637.0 377.5,635.5 377.5,635.5 378.5,646.7 378.5,651.2 379.5,666.3 379.5,670.8 379.5,668.2 380.5,655.4 380.5,649.0 381.5,634.1 381.5,624.0 381.5,610.3 382.5,607.8 382.5,598.7 382.5,582.5 383.5,583.6 383.5,594.0 384.5,598.8 384.5,606.2 385.5,616.9 385.5,620.0 385.5,621.0 386.5,618.5 386.5,619.4 387.5,619.5 387.5,609.6 388.5,611.1 388.5,611.8 388.5,606.7 389.5,606.0 389.5,617.4 390.5,620.7 390.5,638.0 391.5,645.0 391.5,651.5 391.5,652.3 392.5,660.3 392.5,660.6 393.5,665.1 393.5,662.1 393.5,666.0 394.5,660.6 394.5,651.1 395.5,648.5 395.5,650.1 396.5,645.6 396.5,641.8 396.5,640.6 397.5,623.4 397.5,615.2 397.5,609.9 398.5,604.3 398.5,603.1 399.5,599.3 399.5,593.2 399.5,588.6 400.5,592.3 400.5,592.9 401.5,594.9 401.5,602.6 402.5,600.3 402.5,600.7 402.5,598.6 403.5,596.8 403.5,586.2 404.5,579.2 404.5,566.2 404.5,561.9 405.5,581.4 405.5,586.4 405.5,605.5 406.5,602.5 406.5,626.0 406.5,641.8 407.5,642.1 407.5,641.3 408.5,637.6 408.5,630.4 409.5,632.4 409.5,631.8 409.5,632.1 410.5,627.1 410.5,620.1 411.5,616.8 411.5,619.5 412.5,620.7 412.5,619.7 413.5,617.3 413.5,617.6 413.5,604.7 414.5,600.6 414.5,590.6 415.5,586.1 415.5,582.2 415.5,581.3 416.5,581.0 416.5,579.6 417.5,586.0 417.5,588.8 418.5,586.9 418.5,588.6 418.5,575.4 419.5,575.4 419.5,578.8 420.5,581.9 420.5,576.5 420.5,576.0 421.5,577.2 421.5,580.1 422.5,588.7 422.5,586.7 422.5,593.4 423.5,588.9 423.5,580.8 424.5,578.8 424.5,567.8 425.5,567.2 425.5,560.9 426.5,558.0 426.5,559.5 426.5,568.3 427.5,581.6 427.5,581.0 427.5,588.6 428.5,593.9 428.5,601.6 429.5,605.0 429.5,616.6 430.5,617.7 430.5,617.6 430.5,617.7 431.5,610.3 431.5,600.2 432.5,600.7 432.5,602.8 432.5,591.0 433.5,607.0 433.5,613.9 434.5,615.1 434.5,615.1 434.5,624.9 435.5,622.3 435.5,634.8 436.5,630.2 436.5,635.2 437.5,634.2 437.5,649.1 437.5,640.0 438.5,634.7 438.5,618.0 439.5,606.9 439.5,602.9 439.5,593.4 440.5,596.7 440.5,596.0 441.5,597.2 441.5,597.0 442.5,610.6 442.5,617.6 442.5,605.5 443.5,601.6 443.5,594.1 444.5,579.0 444.5,567.0 444.5,565.6 445.5,571.9 445.5,578.1 446.5,584.8 446.5,583.2 447.5,595.5 447.5,595.8 447.5,594.5 448.5,588.6 448.5,593.0 449.5,600.9 449.5,613.4 450.5,611.9 450.5,607.7 450.5,612.8 451.5,618.2 451.5,614.8 452.5,610.4 452.5,604.3 453.5,604.3 453.5,605.5 453.5,615.8 454.5,623.7 454.5,629.7 454.5,632.0 455.5,642.7 455.5,662.6 456.5,670.3 456.5,684.9 456.5,687.8 457.5,685.6 457.5,679.8 458.5,668.0 458.5,664.6 459.5,663.8 459.5,653.9 459.5,656.6 460.5,648.5 460.5,641.0 461.5,641.8 461.5,639.3 461.5,641.8 462.5,636.3 462.5,633.2 463.5,623.5 463.5,625.5 464.5,622.9 464.5,618.4 465.5,615.4 465.5,612.8 465.5,615.6 466.5,611.3 466.5,603.8 467.5,606.7 467.5,600.6 467.5,599.5 468.5,598.7 468.5,598.7 469.5,602.1 469.5,602.4 470.5,605.9 470.5,612.8 470.5,611.3 471.5,612.9 471.5,618.3 472.5,618.8 472.5,616.4 473.5,615.5 473.5,614.5 473.5,617.6 474.5,628.3 474.5,642.9 474.5,653.9 475.5,649.4 475.5,639.1 476.5,624.0 476.5,606.9 476.5,598.2 477.5,598.0 477.5,600.8 478.5,606.3 478.5,610.2 478.5,610.3 479.5,619.6 479.5,628.3 480.5,640.7 480.5,654.7 480.5,666.0 481.5,664.5 481.5,662.9 482.5,660.0 482.5,661.1 483.5,660.7 483.5,658.7 483.5,657.2 484.5,665.5 484.5,672.2 485.5,677.9 485.5,678.9 486.5,680.9 486.5,679.6 486.5,687.8 487.5,688.3 487.5,673.6 488.5,669.9 488.5,665.7 489.5,666.0 489.5,661.2 489.5,660.7 490.5,653.4 490.5,645.7 491.5,645.7 491.5,645.7 491.5,645.4 492.5,645.7 492.5,650.2 493.5,653.5 493.5,659.5 494.5,670.4 494.5,670.8 494.5,670.0 495.5,676.5 495.5,689.0 496.5,694.1 496.5,694.8 496.5,695.0 497.5,693.1 497.5,680.0 498.5,671.9 498.5,670.1 499.5,667.1 499.5,653.9 499.5,653.7 500.5,656.7 500.5,663.8 501.5,657.5 501.5,657.2 501.5,653.9 502.5,662.2 502.5,656.8 503.5,657.5 503.5,655.8 503.5,653.9 504.5,652.4 504.5,656.3 505.5,661.1 505.5,670.5 506.5,682.8 506.5,675.7 506.5,685.0 507.5,680.9 507.5,682.2 508.5,682.4 508.5,686.3 508.5,680.5 509.5,680.5 509.5,681.2 510.5,679.9 510.5,692.1 511.5,698.7 511.5,703.5 511.5,692.1 512.5,679.6 512.5,668.2 513.5,655.4 513.5,645.8 513.5,649.1 514.5,635.7 514.5,633.8 515.5,624.1 515.5,609.8 515.5,610.3 516.5,609.8 516.5,618.1 517.5,621.3 517.5,623.5 518.5,626.2 518.5,624.9 518.5,626.2 519.5,623.9 519.5,619.0 520.5,616.1 520.5,617.2 520.5,617.6 521.5,617.2 521.5,618.3 522.5,621.6 522.5,631.5 523.5,635.7 523.5,639.4 523.5,634.2 524.5,635.1 524.5,623.8 525.5,613.9 525.5,622.0 525.5,612.8 526.5,615.1 526.5,611.2 527.5,608.0 527.5,608.3 528.5,612.2 528.5,614.2 529.5,614.3 529.5,610.7 530.5,606.5 530.5,606.5 530.5,607.9 531.5,618.1 531.5,626.0 532.5,627.7 532.5,635.0 532.5,634.5 533.5,635.5 533.5,624.8 534.5,609.3 534.5,599.9 535.5,592.1 535.5,586.1 535.5,584.2 536.5,587.7 536.5,594.2 537.5,595.6 537.5,589.4 538.5,583.7 538.5,581.0 539.5,581.0 539.5,582.5 539.5,583.3 540.5,590.6 540.5,595.7 541.5,600.5 541.5,603.1 541.5,604.2 542.5,601.1 542.5,595.9 543.5,602.3 543.5,602.5 543.5,593.4 544.5,595.3 544.5,595.2 545.5,598.0 545.5,604.0 546.5,614.3 546.5,612.8 546.5,620.8 547.5,626.2 547.5,629.8 548.5,629.8 548.5,629.8 548.5,629.7 549.5,629.8 549.5,618.6 550.5,600.1 550.5,592.1 551.5,591.5 551.5,583.7 551.5,596.4 552.5,608.9 552.5,629.5 553.5,644.1 553.5,656.7 553.5,658.7 554.5,658.9 554.5,656.4 555.5,652.6 555.5,642.9 555.5,637.0 556.5,639.6 556.5,632.4 557.5,626.8 557.5,622.0 558.5,616.0 558.5,600.7 558.5,607.7 559.5,610.5 559.5,605.5 560.5,611.0 560.5,615.4 560.5,612.8 561.5,612.7 561.5,606.6 562.5,604.9 562.5,600.3 563.5,600.3 563.5,600.7 563.5,604.1 564.5,606.7 564.5,615.0 565.5,626.9 565.5,636.6 565.5,632.1 566.5,642.7 566.5,642.3 567.5,642.7 567.5,644.1 568.5,650.1 568.5,649.1 568.5,649.1 568.5,650.1 569.5,650.1 569.5,648.1 570.5,641.1 570.5,621.7 570.5,615.2 571.5,615.2 571.5,612.7 572.5,618.0 572.5,622.7 572.5,612.8 573.5,617.3 573.5,619.9 574.5,625.0 574.5,624.9 574.5,626.0 575.5,642.4 575.5,659.6 575.5,670.8 576.5,668.1 576.5,657.8 577.5,657.9 577.5,651.1 578.5,647.4 578.5,641.8 578.5,652.9 579.5,649.0 579.5,647.0 580.5,652.0 580.5,649.9 580.5,653.9 581.5,650.9 581.5,655.1 582.5,659.7 582.5,657.6 582.5,666.0 583.5,659.7 583.5,655.8 584.5,653.2 584.5,634.4 585.5,633.4 585.5,624.9 585.5,632.8 586.5,636.2 586.5,640.6 587.5,655.2 587.5,664.4 587.5,673.3 588.5,668.6 588.5,665.3 589.5,655.1 589.5,648.2 590.5,642.4 590.5,637.0 590.5,644.5 591.5,653.8 591.5,660.8 592.5,660.4 592.5,659.8 592.5,656.3 593.5,671.9 593.5,673.6 594.5,675.3 594.5,671.5 595.5,678.7 595.5,675.7 595.5,679.0 596.5,682.6 596.5,683.1 596.5,692.6 597.5,682.2 597.5,677.5 598.5,665.2 598.5,657.4 598.5,663.6 599.5,651.4 599.5,638.4 600.5,626.6 600.5,617.3 601.5,615.5 601.5,615.2 601.5,617.3 602.5,622.9 602.5,636.8 603.5,649.1 603.5,650.7 603.5,653.9 604.5,648.9 604.5,644.0 605.5,636.9 605.5,634.7 605.5,637.0 606.5,631.9 606.5,630.6 607.5,628.7 607.5,616.3 608.5,609.3 608.5,607.9 608.5,607.6 609.5,609.6 609.5,594.6 610.5,600.0 610.5,596.1 610.5,594.6 611.5,603.6 611.5,605.0 612.5,606.5 612.5,613.3 613.5,624.4 613.5,622.4 613.5,634.6 614.5,639.2 614.5,660.0 614.5,652.0 615.5,616.1 615.5,588.0 615.5,587.4 616.5,588.0 616.5,588.0 617.5,588.0 617.5,588.0 618.5,590.6 618.5,600.7 618.5,601.5 619.5,610.1 619.5,613.4 620.5,623.8 620.5,637.0 620.5,636.7 621.5,634.6 621.5,627.5 622.5,622.8 622.5,618.8 622.5,607.9 623.5,614.3 623.5,605.1 624.5,586.1 624.5,569.9 624.5,565.6 625.5,579.0 625.5,589.0 626.5,597.6 626.5,589.0 626.5,591.0 627.5,590.9 627.5,580.1 628.5,591.1 628.5,595.7 628.5,600.7 629.5,599.3 629.5,601.9 630.5,610.5 630.5,610.0 631.5,616.3 631.5,612.8 631.5,618.4 632.5,618.4 632.5,618.8 633.5,618.3 633.5,613.1 634.5,617.8 634.5,618.8 634.5,617.6 635.5,618.8 635.5,616.4 636.5,613.6 636.5,600.7 637.5,595.8 637.5,589.5 638.5,581.9 638.5,580.8 638.5,581.3 639.5,580.8 639.5,582.9 640.5,589.3 640.5,595.0 641.5,599.7 641.5,598.2 641.5,610.5 642.5,606.2 642.5,607.7 643.5,603.2 643.5,607.9 643.5,608.4 644.5,615.7 644.5,619.7 645.5,617.9 645.5,618.3 645.5,620.0 646.5,619.7 646.5,613.3 647.5,608.7 647.5,594.8 648.5,593.4 648.5,583.7 648.5,595.4 649.5,603.8 649.5,607.4 650.5,616.0 650.5,626.2 650.5,629.7 651.5,627.2 651.5,619.7 652.5,612.2 652.5,606.8 653.5,606.0 653.5,598.2 653.5,598.2 654.5,598.2 654.5,598.2 655.5,598.2 655.5,598.2 655.5,607.9 656.5,612.3 656.5,625.8 657.5,636.9 657.5,650.3 657.5,645.2 658.5,633.7 658.5,621.4 659.5,609.1 659.5,603.1 659.5,598.7 660.5,599.4 660.5,589.7 661.5,594.1 661.5,584.7 661.5,588.6 662.5,584.7 662.5,584.7 663.5,584.7 663.5,584.7 664.5,588.9 664.5,586.1 664.5,586.7 665.5,602.6 665.5,607.7 666.5,611.3 666.5,612.8 666.5,616.3 667.5,616.3 667.5,616.3 668.5,611.3 668.5,616.3 668.5,615.2 669.5,616.3 669.5,606.3 670.5,608.5 670.5,600.3 671.5,600.1 671.5,599.0 672.5,593.4 672.5,593.4 672.5,594.5 673.5,595.3 673.5,603.1 674.5,606.9 674.5,612.9 674.5,620.0 675.5,627.0 675.5,627.4 676.5,623.5 676.5,626.3 677.5,626.3 677.5,632.1 677.5,631.8 678.5,639.4 678.5,646.1 679.5,652.5 679.5,656.1 679.5,661.2 680.5,664.3 680.5,673.5 681.5,674.0 681.5,678.6 682.5,683.9 682.5,685.4 682.5,685.2 683.5,683.1 683.5,671.0 684.5,664.6 684.5,655.9 684.5,656.3 685.5,655.9 685.5,662.5 686.5,672.6 686.5,682.4 687.5,685.2 687.5,684.2 687.5,677.4 688.5,679.3 688.5,677.4 689.5,678.0 689.5,675.7 689.5,676.0 690.5,672.9 690.5,668.5 691.5,664.4 691.5,654.2 692.5,651.9 692.5,642.0 693.5,636.2 693.5,634.5 693.5,647.8 694.5,651.5 694.5,649.5 695.5,661.6 695.5,661.2 695.5,669.2 696.5,679.7 696.5,685.5 697.5,693.1 697.5,698.8 697.5,703.5 698.5,699.8 698.5,696.6 699.5,682.6 699.5,669.7 700.5,658.0 700.5,653.9 700.5,655.9 701.5,645.0 701.5,628.5 701.5,624.9 702.5,631.2 702.5,637.7 703.5,645.1 703.5,641.2 703.5,649.1 704.5,650.6 704.5,649.2 705.5,646.3 705.5,645.7 706.5,650.4 706.5,650.6 707.5,650.6 707.5,650.6 707.5,649.1 708.5,643.6 708.5,639.1 709.5,635.3 709.5,620.6 710.5,616.1 710.5,617.6 710.5,624.4 711.5,622.7 711.5,629.9 712.5,640.7 712.5,646.6 712.5,638.1 713.5,634.0 713.5,631.2 714.5,630.9 714.5,619.4 714.5,620.0 715.5,622.4 715.5,623.8 716.5,628.9 716.5,632.1 717.5,631.1 717.5,624.9 717.5,635.1 718.5,634.1 718.5,638.5 719.5,646.1 719.5,656.9 720.5,672.2 720.5,673.5 720.5,687.8 721.5,680.3 721.5,670.1 722.5,660.2 722.5,664.2 723.5,658.0 723.5,653.9 723.5,658.8 724.5,656.0 724.5,643.5 725.5,630.1 725.5,636.6 726.5,628.0 726.5,617.8 726.5,617.6 727.5,617.9 727.5,617.7 728.5,613.9 728.5,612.7 729.5,613.8 729.5,613.9 730.5,616.5 730.5,613.2 730.5,612.8 731.5,614.1 731.5,620.1 732.5,623.7 732.5,630.4 732.5,627.3 733.5,630.1 733.5,640.7 734.5,647.4 734.5,656.3 734.5,656.0 735.5,647.9 735.5,647.2 736.5,641.0 736.5,641.2 736.5,641.8 737.5,640.7 737.5,628.4 738.5,625.2 738.5,618.9 739.5,620.4 739.5,620.0 739.5,622.7 740.5,621.9 740.5,632.1 740.5,630.3 741.5,650.3 741.5,667.7 742.5,681.8 742.5,685.7 742.5,687.8 743.5,684.9 743.5,686.0 744.5,674.5 744.5,667.0 745.5,659.1 745.5,661.2 745.5,662.7 746.5,681.7 746.5,687.8 746.5,686.1 747.5,680.3 747.5,673.2 748.5,667.7 748.5,663.2 748.5,649.1 749.5,654.5 749.5,649.1 750.5,642.3 750.5,646.5 751.5,641.8 751.5,641.8 751.5,632.7 752.5,630.7 752.5,629.4 753.5,630.5 753.5,630.5 753.5,624.9 754.5,619.7 754.5,612.1 754.5,610.3 755.5,612.5 755.5,620.7 756.5,635.1 756.5,651.0 757.5,663.5 757.5,668.4 757.5,649.7 758.5,628.5 758.5,622.4 758.5,622.5 759.5,619.3 759.5,625.1 760.5,628.6 760.5,627.1 760.5,627.3 761.5,621.6 761.5,619.0 762.5,610.9 762.5,607.0 763.5,603.8 763.5,603.1 763.5,603.1 764.5,604.3 764.5,607.3 765.5,606.5 765.5,611.5 765.5,617.6 766.5,611.2 766.5,604.8 767.5,606.8 767.5,607.9 768.5,606.8 768.5,599.6 769.5,606.8 769.5,610.3 769.5,609.5 770.5,609.1 770.5,606.2 771.5,596.7 771.5,595.6 771.5,595.8 772.5,595.2 772.5,604.5 773.5,601.3 773.5,604.9 774.5,598.4 774.5,603.1 774.5,601.1 775.5,609.3 775.5,622.5 776.5,632.7 776.5,640.1 776.5,639.4 777.5,626.2 777.5,626.0 778.5,614.3 778.5,614.9 778.5,603.1 779.5,614.2 779.5,621.7 780.5,630.1 780.5,629.0 781.5,643.0 781.5,643.0 781.5,643.0 782.5,643.0 782.5,628.6 783.5,620.4 783.5,607.9 783.5,607.9 784.5,607.4 784.5,609.4 785.5,614.0 785.5,622.6 786.5,625.0 786.5,626.6 787.5,627.7 787.5,627.3 787.5,637.2 788.5,635.4 788.5,637.2 788.5,637.0 789.5,625.4 789.5,612.3 790.5,605.4 790.5,594.5 791.5,596.9 791.5,583.7 791.5,598.9 792.5,582.4 792.5,573.2 793.5,570.4 793.5,575.4 793.5,569.2 794.5,574.9 794.5,570.2 795.5,558.9 795.5,555.1 795.5,555.9 796.5,555.1 796.5,555.1 797.5,558.0 797.5,568.4 798.5,567.6 798.5,576.5 798.5,573.0 799.5,580.1 799.5,577.8 800.5,574.1 800.5,575.3 800.5,571.6 801.5,579.9 801.5,587.2 802.5,592.3 802.5,599.2 803.5,609.0 803.5,612.8 803.5,603.4 804.5,600.2 804.5,588.6 804.5,598.7 805.5,617.8 805.5,629.2 805.5,629.7 806.5,629.2 806.5,629.2 807.5,629.2 807.5,625.7 808.5,630.7 808.5,617.6 808.5,624.5 809.5,622.0 809.5,620.2 810.5,624.4 810.5,627.3 810.5,629.0 811.5,637.4 811.5,639.0 812.5,635.4 812.5,643.6 812.5,649.1 813.5,650.6 813.5,649.1 813.5,642.2 814.5,625.9 814.5,613.1 814.5,598.2 815.5,606.9 815.5,608.5 816.5,605.9 816.5,609.8 816.5,617.6 817.5,615.7 817.5,614.0 818.5,625.6 818.5,627.8 819.5,636.4 819.5,639.4 819.5,637.9 820.5,632.4 820.5,635.7 821.5,626.9 821.5,620.0 821.5,620.0 822.5,622.9 822.5,631.0 823.5,634.0 823.5,633.6 824.5,642.1 824.5,641.8 824.5,642.3 825.5,646.2 825.5,637.5 826.5,632.7 826.5,625.1 826.5,624.9 827.5,628.9 827.5,642.3 828.5,657.8 828.5,666.0 828.5,661.8 829.5,649.5 829.5,635.8 830.5,633.9 830.5,629.7 830.5,629.0 831.5,633.4 831.5,630.8 832.5,633.8 832.5,633.3 832.5,637.0 833.5,622.0 833.5,623.6 834.5,625.1 834.5,618.5 835.5,618.5 835.5,620.0 835.5,618.5 836.5,618.5 836.5,618.5 837.5,618.5 837.5,624.9 837.5,620.9 838.5,639.2 838.5,644.4 838.5,651.5 839.5,653.8 839.5,668.0 840.5,673.8 840.5,677.4 841.5,680.8 841.5,685.4 841.5,684.3 842.5,685.0 842.5,688.8 842.5,687.8 843.5,682.0 843.5,678.7 844.5,666.4 844.5,659.5 844.5,653.9 845.5,655.7 845.5,655.7 846.5,660.9 846.5,664.4 847.5,670.9 847.5,678.1 847.5,671.8 848.5,670.2 848.5,663.0 849.5,653.0 849.5,644.7 849.5,646.6 850.5,642.0 850.5,640.3 851.5,630.7 851.5,623.4 851.5,617.6 852.5,617.2 852.5,625.9 853.5,638.2 853.5,637.0 853.5,634.8 854.5,650.9 854.5,663.6 854.5,658.9 855.5,653.2 855.5,661.7 856.5,665.9 856.5,671.2 856.5,673.3 857.5,669.2 857.5,685.7 858.5,689.1 858.5,690.2 858.5,690.6 859.5,691.4 859.5,686.7 860.5,682.5 860.5,670.8 860.5,677.6 861.5,651.4 861.5,645.9 862.5,628.6 862.5,617.6 862.5,622.1 863.5,632.1 863.5,634.0 864.5,642.3 864.5,651.6 864.5,651.5 865.5,652.4 865.5,650.7 866.5,639.7 866.5,641.8 866.5,634.3 867.5,637.9 867.5,643.9 868.5,655.9 868.5,655.9 868.5,656.3 869.5,655.9 869.5,649.5 870.5,645.1 870.5,638.3 871.5,623.5 871.5,620.0 871.5,622.5 872.5,617.9 872.5,617.5 873.5,604.2 873.5,596.9 873.5,605.5 874.5,598.6 874.5,588.2 875.5,588.2 875.5,584.9 875.5,588.6 876.5,615.3 876.5,642.4 877.5,668.5 877.5,684.2 877.5,684.0 878.5,677.4 878.5,672.0 879.5,679.1 879.5,673.7 879.5,658.7 880.5,668.1 880.5,664.8 881.5,657.8 881.5,657.1 882.5,654.3 882.5,653.9 882.5,657.0 883.5,650.0 883.5,645.5 884.5,645.5 884.5,645.5 884.5,646.6 885.5,659.5 885.5,665.3 886.5,662.3 886.5,665.7 887.5,666.7 887.5,670.8 887.5,681.6 888.5,693.6 888.5,713.2 888.5,702.0 889.5,689.4 889.5,673.3 890.5,654.7 890.5,638.3 890.5,632.1 891.5,639.5 891.5,634.5 892.5,628.6 892.5,629.5 893.5,621.2 893.5,622.4 893.5,624.5 894.5,622.4 894.5,621.6 895.5,625.6 895.5,631.2 895.5,629.7 896.5,626.3 896.5,626.8 897.5,623.2 897.5,612.2 897.5,612.8 898.5,614.3 898.5,608.6 899.5,601.9 899.5,600.1 900.5,599.8 900.5,605.5 900.5,602.9 901.5,599.8 901.5,606.2 902.5,604.5 902.5,600.7 902.5,606.7 903.5,619.4 903.5,637.7 903.5,653.9 904.5,644.8 904.5,643.9 905.5,650.6 905.5,662.8 906.5,670.0 906.5,675.7 906.5,674.6 907.5,674.7 907.5,666.7 908.5,669.9 908.5,666.2 908.5,678.1 909.5,676.4 909.5,682.8 910.5,688.3 910.5,695.7 911.5,701.8 911.5,702.3 911.5,705.4 912.5,708.1 912.5,706.5 913.5,703.3 913.5,709.2 913.5,712.0 914.5,718.0 914.5,720.4 915.5,720.4 915.5,720.4 915.5,719.2 916.5,709.4 916.5,697.8 917.5,681.5 917.5,675.7 917.5,672.6 918.5,674.6 918.5,668.0 919.5,664.5 919.5,650.3 919.5,644.2 920.5,648.6 920.5,657.3 921.5,668.3 921.5,675.2 922.5,684.9 922.5,685.4 922.5,680.3 923.5,678.9 923.5,673.6 924.5,658.9 924.5,654.4 924.5,651.5 925.5,644.6 925.5,640.6 926.5,628.6 926.5,621.7 926.5,612.8 927.5,616.0 927.5,609.2 928.5,609.2 928.5,609.2 929.5,609.2 929.5,610.3 929.5,612.8 930.5,618.2 930.5,617.2 931.5,625.4 931.5,627.7 931.5,634.5 932.5,630.4 932.5,627.6 933.5,628.7 933.5,621.2 934.5,624.2 934.5,624.9 934.5,620.1 935.5,628.3 935.5,626.0 936.5,626.0 936.5,625.5 936.5,634.5 937.5,621.3 937.5,615.1 938.5,612.8 938.5,609.1 938.5,610.9 939.5,617.6 939.5,619.9 940.5,625.6 940.5,629.7 940.5,635.9 941.5,638.1 941.5,642.4 942.5,636.7 942.5,645.6 943.5,651.5 943.5,658.8 943.5,658.7 944.5,649.0 944.5,645.4 945.5,639.8 945.5,634.5 946.5,625.6 946.5,624.9 946.5,621.1 947.5,618.2 947.5,611.2 948.5,603.0 948.5,595.9 949.5,588.4 949.5,584.9 949.5,584.0 950.5,587.2 950.5,586.1 951.5,601.7 951.5,600.4 951.5,612.8 952.5,608.3 952.5,609.1 953.5,615.5 953.5,618.1 954.5,625.2 954.5,627.8 954.5,637.0 955.5,625.7 955.5,626.7 956.5,630.0 956.5,626.2 957.5,621.4 957.5,617.6 957.5,619.0 958.5,628.0 958.5,638.8 959.5,644.0 959.5,649.1 959.5,643.6 960.5,632.0 960.5,622.4 961.5,608.9 961.5,598.1 961.5,598.2 962.5,598.7 962.5,602.2 963.5,604.8 963.5,601.3 964.5,601.1 964.5,607.9 964.5,604.5 965.5,598.9 965.5,608.1 966.5,611.0 966.5,612.0 966.5,612.8 967.5,611.9 967.5,626.9 968.5,635.5 968.5,654.0 969.5,662.6 969.5,663.6 969.5,658.2 970.5,655.7 970.5,646.3 971.5,638.1 971.5,633.6 971.5,632.1 972.5,634.0 972.5,644.4 973.5,656.2 973.5,665.4 974.5,669.4 974.5,673.3 974.5,672.2 975.5,679.2 975.5,691.6 976.5,704.3 976.5,712.4 976.5,712.0 977.5,709.7 977.5,708.7 978.5,706.2 978.5,703.4 978.5,704.7 979.5,703.2 979.5,693.9 980.5,684.9 980.5,674.5 981.5,669.2 981.5,663.6 981.5,667.6 982.5,676.4 982.5,674.0 983.5,671.7 983.5,675.1 983.5,680.5 984.5,678.7 984.5,696.3 985.5,703.6 985.5,716.2 985.5,724.1 986.5,710.4 986.5,697.2 987.5,685.8 987.5,675.7 987.5,679.9 988.5,673.0 988.5,672.5 989.5,661.1 989.5,657.2 990.5,655.6 990.5,655.2 991.5,658.1 991.5,661.2 991.5,659.9 992.5,650.7 992.5,653.4 993.5,647.3 993.5,655.2 993.5,651.5 994.5,648.9 994.5,642.0 995.5,634.0 995.5,627.4 995.5,622.4 996.5,623.1 996.5,627.0 997.5,638.3 997.5,645.8 998.5,655.1 998.5,656.3 998.5,656.3 999.5,653.4 999.5,643.5 1000.5,653.8 1000.5,639.9 1000.5,632.1 1001.5,635.1 1001.5,643.0 1002.5,650.7 1002.5,648.6 1003.5,645.5 1003.5,653.9 1003.5,641.3 1004.5,636.9 1004.5,633.9 1005.5,633.9 1005.5,635.3 1005.5,634.5 1006.5,642.3 1006.5,642.2 1007.5,648.9 1007.5,656.1 1008.5,664.4 1008.5,656.3 1008.5,667.9 1009.5,670.9 1009.5,675.7 1009.5,670.9 1010.5,662.5 1010.5,643.5 1010.5,629.7 1011.5,639.4 1011.5,647.0 1012.5,645.1 1012.5,640.2 1012.5,646.6 1013.5,641.7 1013.5,640.8 1014.5,643.6 1014.5,635.6 1015.5,647.6 1015.5,641.8 1015.5,654.7 1016.5,646.8 1016.5,640.5 1017.5,640.5 1017.5,642.9 1017.5,644.2 1018.5,653.3 1018.5,661.6 1019.5,665.7 1019.5,663.8 1020.5,676.1 1020.5,680.5 1020.5,688.9 1021.5,695.6 1021.5,702.3 1021.5,696.5 1022.5,676.9 1022.5,655.2 1022.5,653.9 1023.5,643.8 1023.5,642.2 1024.5,631.8 1024.5,635.5 1024.5,629.7 1025.5,625.9 1025.5,623.6 1026.5,614.8 1026.5,612.1 1027.5,605.7 1027.5,603.1 1027.5,602.2 1028.5,590.1 1028.5,576.1 1029.5,571.1 1029.5,571.6 1029.5,571.1 1030.5,571.1 1030.5,571.1 1031.5,571.1 1031.5,581.3 1031.5,583.3" fill="none" stroke="#38ade0" stroke-width="1" shape-rendering="crispEdges"/>
<!-- axis labels -->
<text x="70.5" y="24.7" text-anchor="end" class="ax">100.8959</text>
<text x="1204" y="24.7" class="ax">100.8959</text>
<text x="70.5" y="80.3" text-anchor="end" class="ax">100.3389</text>
<text x="1204" y="80.3" class="ax">100.3389</text>
<text x="70.5" y="135.9" text-anchor="end" class="ax">99.7819</text>
<text x="1204" y="135.9" class="ax">99.7819</text>
<text x="70.5" y="191.5" text-anchor="end" class="ax">99.2249</text>
<text x="1204" y="191.5" class="ax">99.2249</text>
<text x="70.5" y="247.1" text-anchor="end" class="ax">98.6679</text>
<text x="1204" y="247.1" class="ax">98.6679</text>
<text x="70.5" y="302.7" text-anchor="end" class="ax">98.1109</text>
<text x="1204" y="302.7" class="ax">98.1109</text>
<text x="70.5" y="358.3" text-anchor="end" class="ax">97.5539</text>
<text x="1204" y="358.3" class="ax">97.5539</text>
<text x="70.5" y="413.9" text-anchor="end" class="ax">96.9969</text>
<text x="1204" y="413.9" class="ax">96.9969</text>
<text x="70.5" y="469.5" text-anchor="end" class="ax">96.4399</text>
<text x="1204" y="469.5" class="ax">96.4399</text>
<text x="70.5" y="547.9" text-anchor="end" class="ax">84.9869</text>
<text x="1204" y="547.9" class="ax">84.9869</text>
<text x="70.5" y="573.8" text-anchor="end" class="ax">74.9102</text>
<text x="1204" y="573.8" class="ax">74.9102</text>
<text x="70.5" y="599.7" text-anchor="end" class="ax">64.8336</text>
<text x="1204" y="599.7" class="ax">64.8336</text>
<text x="70.5" y="625.6" text-anchor="end" class="ax">54.7569</text>
<text x="1204" y="625.6" class="ax">54.7569</text>
<text x="70.5" y="651.5" text-anchor="end" class="ax">44.6803</text>
<text x="1204" y="651.5" class="ax">44.6803</text>
<text x="70.5" y="677.4" text-anchor="end" class="ax">34.6036</text>
<text x="1204" y="677.4" class="ax">34.6036</text>
<text x="70.5" y="703.3" text-anchor="end" class="ax">24.5270</text>
<text x="1204" y="703.3" class="ax">24.5270</text>
<text x="79.5" y="738.6" class="dt">08/29</text>
<text x="226.5" y="738.6" class="dt">09/16</text>
<text x="372.4" y="738.6" class="dt">10/02</text>
<text x="518.8" y="738.6" class="dt">10/18</text>
<text x="663.7" y="738.6" class="dt">11/05</text>
<text x="807.6" y="738.6" class="dt">11/21</text>
<text x="951.6" y="738.6" class="dt">12/09</text>
<!-- current price box -->
<rect x="1200.5" y="251.5" width="68" height="17" fill="#fff" stroke="#ff7f00" stroke-width="1"/>
<text x="1203.5" y="264.5" style="fill:#ff7f00">98.6008</text>
<path d="M1260 250L1264 246L1268 250ZM1260 246L1264 242L1268 246Z" fill="#ff7f00"/>
<rect x="1200.5" y="511.5" width="68" height="17" fill="#fff" stroke="#e4eaf0" stroke-width="1"/>
<text x="1203.5" y="524.5" style="fill:#ff7f00">95.9930</text>
<!-- titles -->
<text x="76" y="15" style="fill:#111">美元指数</text>
<text x="124" y="15" style="fill:#ff7f00">【60分】</text>
<circle cx="178.5" cy="12.3" r="4.2" fill="none" stroke="#ff7f00" stroke-width="1"/>
<path d="M174.3 12.3H182.7M178.5 8.1V16.5" stroke="#ff7f00" stroke-width="1"/>
<text x="76.3" y="537" style="fill:#111">RSI(14,14,14)</text>
<text x="155.8" y="537" style="fill:#5b8ef5">RSI1:69.4869</text>
<text x="237.6" y="537" style="fill:#56c98a">RSI2:69.4869</text>
<text x="319.8" y="537" style="fill:#3fb0e6">RSI3:69.4869</text>
<text x="401.7" y="537" style="fill:#c4c4c4">L20:20.0000</text>
<text x="477.5" y="537" style="fill:#c4c4c4">L30:30.0000</text>
<text x="553.6" y="537" style="fill:#c4c4c4">L50:50.0000</text>
<text x="630" y="537" style="fill:#c4c4c4">L70:70.0000</text>
<text x="706" y="537" style="fill:#c4c4c4">L80:80.0000</text>
<!-- RSI icon -->
<g stroke="#f00" stroke-width="1">
<path d="M12.5 523V525.5M12.5 533V535.5M6 529.5H8.5M16.5 529.5H19M7.8 524.8L9.5 526.5M15.5 532.5L17.2 534.2M17.2 524.8L15.5 526.5M9.5 532.5L7.8 534.2"/>
</g>
<circle cx="12.5" cy="529.5" r="3.3" fill="none" stroke="#000" stroke-width="1"/>
<circle cx="12.5" cy="529.5" r="1.8" fill="#f00"/>
<!-- bottom box -->
<rect x="4.5" y="726.5" width="69" height="18" fill="#fff" stroke="#d0d8e0" stroke-width="1"/>
<text x="18.4" y="740.5" style="fill:#ff7f00;font-weight:bold">60分</text>
<path d="M49.6 740.5L53.7 733L57.8 740.5Z" fill="#ff7f00"/>
<!-- toolbar icons -->
<g fill="none" stroke="#1a73c8" stroke-width="1">
<rect x="1137.5" y="1.5" width="13" height="13"/>
<rect x="1153.5" y="1.5" width="13" height="13"/>
<rect x="1169.5" y="1.5" width="13" height="13" fill="#1a73c8"/>
<rect x="1185.5" y="1.5" width="13" height="13"/>
</g>
<g fill="#1a73c8">
<rect x="1139" y="7" width="3" height="2"/><rect x="1146" y="7" width="3" height="2"/><rect x="1143" y="3" width="2" height="3"/><rect x="1143" y="10" width="2" height="3"/><rect x="1143" y="7" width="2" height="2"/>
</g>
<g stroke="#1a73c8" stroke-width="1" fill="none">
<path d="M1156.5 3.5V12.5M1155.5 11.5H1164.5M1159.5 4.5V9.5"/>
</g>
<path d="M1154.5 5.5L1156.5 3L1158.5 5.5ZM1163 9.5L1165.5 11.5L1163 13.5ZM1160.2 6.8L1163 4.5V9.2Z" fill="#1a73c8"/>
<g stroke="#fff" stroke-width="1" fill="none">
<path d="M1172.5 3.5V12.5M1171.5 11.5H1180.5"/>
<path d="M1174.8 4.5V10.5" stroke-width="1.2"/>
</g>
<path d="M1170.5 5.5L1172.5 3L1174.5 5.5ZM1179 9.5L1181.5 11.5L1179 13.5Z" fill="#fff"/>
<path d="M1176 5L1180 7.6L1176 10.4Z" fill="#c9ddf2"/>
<rect x="1187.5" y="3.5" width="3" height="9" fill="none" stroke="#1a73c8" stroke-width="1"/>
<path d="M1190.5 7H1194V9H1190.5Z" fill="#1a73c8"/>
<path d="M1193.3 5.2L1196.8 8L1193.3 10.8Z" fill="#1a73c8"/>
<!-- watermark -->
<text x="1141.5" y="720" style="font-size:32px;letter-spacing:1.4px;fill:#b9a993;opacity:0.7">FX678</text>
<text x="1140.5" y="719" style="font-size:32px;letter-spacing:1.4px;fill:#dde8f6">FX678</text>
</svg>
</body></html>
